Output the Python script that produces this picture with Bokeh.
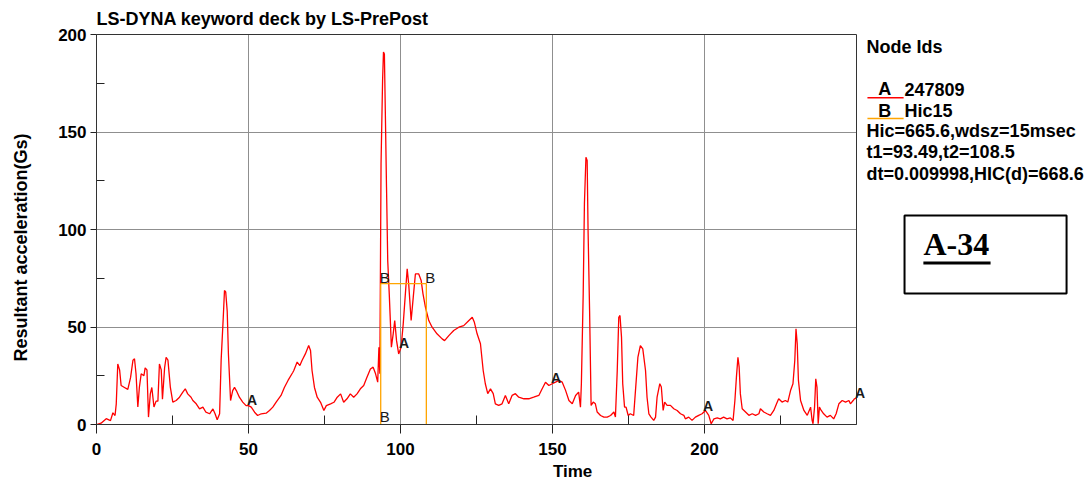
import numpy as np
from bokeh.plotting import figure
from bokeh.models import Label, BoxAnnotation, FixedTicker, Range1d, Grid
from bokeh.embed import file_html
from bokeh.resources import INLINE

# ---------------- data ----------------
time = [
    0, 1.5, 3.2, 4.6, 5.4, 6.1, 6.5, 7, 7.6, 8.1, 9.2, 10.3, 11.2, 12, 12.5, 13, 13.6, 14.1, 14.7, 15.6,
    16, 16.6, 17.1, 17.7, 18.2, 18.9, 19.6, 20.2, 20.7, 21.3, 21.7, 22.4, 22.9, 23.5, 24.3, 25.1, 26.2,
    27.3, 28.4, 29.2, 30, 31.1, 31.7, 32.8, 33.9, 35, 36, 37.2, 38.3, 39, 39.7, 40.5, 41, 41.7, 42.1,
    42.5, 43, 43.4, 44.1, 44.8, 45.4, 46, 47, 48.1, 49.2, 50, 50.9, 52, 53, 54.2, 55.8, 56.9, 58, 59.1,
    60.7, 61.8, 63, 64.6,
    64.9, 66, 66.9, 67.6, 68.7, 69.8, 70.4, 70.9, 71.7, 72.6, 73.7, 74.8, 75.6, 77, 78.1, 79.2, 80.3,
    81.3, 82.4, 83.5, 84.6, 85.7, 86.8, 87.9, 89, 90.1, 91, 91.8, 92.5, 92.9, 93.2, 93.6, 94.1, 94.4,
    94.7, 95, 95.4, 95.8, 96.3, 96.7, 97, 97.6, 98.1, 98.7, 99.4, 100.2, 100.9, 101.6, 102.2, 102.7,
    103.5, 104.2, 104.9, 106, 106.8, 107.4, 108.2, 109.3, 110.4, 112, 113.7, 114.5, 115.9, 117.5,
    119.2, 120.8, 122.5, 123.6, 124.3, 125.2,
    126.3, 127.2, 127.9, 128.7, 129.6, 130.5, 131.2, 132.3, 133.4, 134.5, 135.6, 136.7, 137.8, 138.9,
    140.6, 142.2, 143.8, 145.5, 146.6, 147.7, 148.8, 149.9, 151, 152.1, 153.2, 154.3, 155.4, 156.5,
    157.6, 158.6, 159.2, 159.5, 160.1, 160.5, 161, 161.4, 161.7, 162.2, 162.7, 163.4, 164.1, 164.7,
    165.8, 166.9, 168, 169.1, 170.2, 170.7, 171.3, 171.8, 172.2, 172.7, 173.1, 173.7, 174.2, 174.9,
    175.6, 176.7, 177.3, 178.1, 178.9, 179.7, 180.6, 181.1, 181.7, 182.4, 183.3, 183.9, 184.4, 185.3,
    185.8, 186.4, 186.9, 187.7,
    188.8, 189.9, 191, 192.1, 193.2, 193.7, 194.8, 195.9, 197, 198.1, 199.2, 200.3, 201.4, 202.2,
    203.1, 204.2, 205.2, 206.3, 207.4, 208.5, 209.4, 210, 210.5, 211, 211.4, 211.8, 212.4, 213.5,
    214.6, 215.7, 216.8, 217.9, 218.4, 219.5, 220.6, 221.7, 222.8, 223.7, 224.4, 225.5, 226.6, 227.4,
    228.3, 229.1, 229.7, 230.1, 230.5, 230.9, 231.6, 232.7, 233.8, 234.9, 235.4, 235.7, 236.2, 236.6,
    237, 237.4, 237.8, 238.4, 239.2, 240.3, 241.4, 242.5, 243.3, 244.2, 245.3, 246.4, 247.5, 248,
    248.9, 249.3, 250,
]
accel = [
    0, 0.7, 3, 2, 6, 4.6, 10.6, 31, 28, 20, 19, 18, 24, 33, 33.7, 26, 9, 19, 26, 25,
    29, 28, 3.8, 15.7, 19, 9, 12, 12, 31, 28, 13, 29, 34.5, 33, 19, 11.5, 12.3,
    14, 16.6, 18.3, 15.7, 14, 12.3, 10.6, 8, 8.9, 6.3, 5.5, 8, 5.5, 2.4, 5.5, 33, 55, 68.7,
    68, 58, 36, 12.3, 17.4, 19, 17.4, 14, 11.5, 9.7, 9.7, 8.9, 6.3, 4.6, 5.5, 5.8, 7.2, 8.9, 11.5,
    14.9, 19, 22.6, 26.8,
    27.7, 32, 30.2, 32.8, 36.2, 40.5, 38, 27.7, 19, 14, 11.4, 7.2, 9.7, 10.6, 11.4, 14, 15.7,
    11.4, 13.2, 15.7, 14, 15.7, 18.3, 20, 24.3, 28.5, 29.4, 26, 21.7, 39.6, 26, 133.6, 176, 191,
    190, 161, 121.7, 84, 67, 51.6, 39.6, 46.5, 53.3, 43, 36.2, 39.6, 51.6, 67, 79.8, 72,
    53.3, 65.3, 77.2, 77.2, 73.8, 67, 60.2, 53.3, 49.9, 46.5, 43.9, 43, 45.6, 48.2,
    49.9, 50.7, 53.3, 55, 52.4, 46.5,
    41.4, 27.7, 20.9, 15.8, 18.3, 15.8, 10.6, 9.8, 10.6, 14.9, 10.6, 14.9, 15.8, 14,
    13.2, 13.2, 14, 14.9, 18.3, 21.7, 20, 20.9, 21.7, 22.6, 21.7, 17.5, 12.3, 10.6,
    14.9, 16.6, 8.9, 20.9, 67, 113.2, 137.1, 135.4, 99.5, 58.5, 9.8, 11.5, 10.6, 6.4,
    4.6, 3.8, 3.8, 4.6, 6.4, 3.8, 27.7, 55, 55.9, 44.8, 20.9, 8.9, 8.9, 4.6,
    5.5, 4.6, 17.5, 34.6, 40.5, 38.8, 27.7, 14, 5.5, 3.8, 2.1, 3.8, 14, 20.9,
    19.2, 7.2, 11.5, 9.8,
    9.8, 8.1, 7.2, 5.5, 4.7, 2.9, 3.8, 2.1, 3.8, 4.7, 5.5, 7.2, 4.7, 0.4,
    2.9, 3.4, 2.9, 3.8, 2.9, 3.4, 2.1, 12.3, 24.3, 34.5, 29.4, 15.7, 8.1, 6.4,
    4.7, 5.5, 4.7, 5.5, 8.1, 6.4, 5.5, 4.7, 7.2, 10.6, 13.2, 11.5, 12.3, 11.5,
    17.4, 20.9, 32.8, 49.1, 41.4, 22.6, 12.3, 7.2, 4.7, 8.9, 2.1, 0.4, 8.9, 23.4,
    19.2, 0.4, 8.9, 7.2, 5.5, 3.8, 4.7, 2.9, 5.5, 10.6, 12.3, 11.5, 12.3, 10.6,
    12.3, 13.2, 13.5,
]
hic_t1 = 93.49
hic_t2 = 108.5
hic_level = 72.2
a_marker_times = [50, 100, 150, 200, 250]

x_bounds = (0, 250)
y_bounds = (0, 200)
x_ticks = [0, 50, 100, 150, 200]
x_minor = [25, 75, 125, 175, 225]
y_ticks = [0, 50, 100, 150, 200]
y_minor = [25, 75, 125, 175]

title_text = "LS-DYNA keyword deck by LS-PrePost"
x_label = "Time"
y_label = "Resultant acceleration(Gs)"
legend_title = "Node Ids"
legend_a = ("A", "247809")
legend_b = ("B", "Hic15")
info_lines = ["Hic=665.6,wdsz=15msec", "t1=93.49,t2=108.5", "dt=0.009998,HIC(d)=668.6"]
box_text = "A-34"

RED = "#ff0000"
ORANGE = "#ffa500"
FONT = "Liberation Sans"

# ---------------- figure ----------------
# the frame fills the whole canvas: x=0 sits 96px from the left, y=0 sits 424px from the top
W, H = 1085, 481
PX_X, PX_Y = 3.04, 1.95
p = figure(width=W, height=H,
           x_range=Range1d(-96 / PX_X, (W - 96) / PX_X),
           y_range=Range1d((424 - H) / PX_Y, 424 / PX_Y),
           output_backend="svg", toolbar_location=None,
           min_border_left=0, min_border_right=0, min_border_top=0, min_border_bottom=0)
p.title.visible = False
p.background_fill_color = "white"
p.border_fill_color = "white"
p.outline_line_color = None

# axes, pinned at the data origin
for ax, ticks, minor, bounds in ((p.xaxis, x_ticks, x_minor, x_bounds),
                                 (p.yaxis, y_ticks, y_minor, y_bounds)):
    ax.fixed_location = 0
    ax.bounds = bounds
    ax.ticker = FixedTicker(ticks=ticks, minor_ticks=minor)
    ax.axis_line_color = "#222222"
    ax.major_tick_line_color = "#222222"
    ax.minor_tick_line_color = "#222222"
    ax.major_tick_in = 0
    ax.minor_tick_out = 0
    ax.major_label_text_font = FONT
    ax.major_label_text_font_style = "bold"
    ax.major_label_text_font_size = "17px"
    ax.major_label_text_color = "black"
p.xaxis.major_tick_out = 9
p.xaxis.minor_tick_in = 9
p.xaxis.major_label_standoff = 9
p.yaxis.major_tick_out = 6
p.yaxis.minor_tick_in = 8
p.yaxis.major_label_standoff = 4

# grid lines limited to the plotting box
GRID_COLOR = "#8f8f8f"
if "cross_bounds" in Grid.properties():
    p.xgrid.ticker = FixedTicker(ticks=[50, 100, 150, 200])
    p.ygrid.ticker = FixedTicker(ticks=[50, 100, 150])
    p.xgrid.bounds = x_bounds
    p.ygrid.bounds = y_bounds
    p.xgrid.cross_bounds = y_bounds
    p.ygrid.cross_bounds = x_bounds
    p.grid.grid_line_color = GRID_COLOR
else:
    p.grid.visible = False
    gx = [50, 100, 150, 200]
    gy = [50, 100, 150]
    p.segment(x0=gx, y0=[y_bounds[0]] * 4, x1=gx, y1=[y_bounds[1]] * 4,
              line_color=GRID_COLOR, line_width=1)
    p.segment(x0=[x_bounds[0]] * 3, y0=gy, x1=[x_bounds[1]] * 3, y1=gy,
              line_color=GRID_COLOR, line_width=1)

# plot box border (top and right)
p.add_layout(BoxAnnotation(left=x_bounds[0], right=x_bounds[1], bottom=y_bounds[0], top=y_bounds[1],
                           fill_color=None, fill_alpha=0, line_color="#333333", line_alpha=1.0,
                           line_width=1))

# curves
p.line(time, accel, line_color=RED, line_width=1.3)
p.line([hic_t1, hic_t1, hic_t2, hic_t2], [0, hic_level, hic_level, 0],
       line_color=ORANGE, line_width=1.3)

# curve letters (centre placed a few pixels up/right of the point)
for tm in a_marker_times:
    p.add_layout(Label(x=tm + 3.5 / PX_X, y=float(np.interp(tm, time, accel)) + 5.5 / PX_Y,
                       text="A", text_font=FONT, text_font_size="14px", text_font_style="bold",
                       text_color="#1a1a1a", text_baseline="middle", text_align="center"))
for bx, by, up in ((hic_t1, hic_level, 6.5), (hic_t2, hic_level, 6.5), (hic_t1, 0, 8.0)):
    p.add_layout(Label(x=bx + 4.0 / PX_X, y=by + up / PX_Y, text="B",
                       text_font=FONT, text_font_size="15px",
                       text_color="#1a1a1a", text_baseline="middle", text_align="center"))

def lab(x, y, text, size="18px", style="bold", align="left", baseline="middle", angle=0.0,
        font=FONT, color="black"):
    p.add_layout(Label(x=x, y=y, text=text, text_font=font, text_font_size=size,
                       text_font_style=style, text_align=align, text_baseline=baseline,
                       angle=angle, text_color=color))

# titles
lab(0, 208.2, title_text, size="18px")
lab(156.6, -24.2, x_label, size="17px", align="center")
lab(-25.0, 90.8, y_label, size="18px", align="center", angle=np.pi / 2)

# legend (right side)
LX = 253.3
lab(LX, 193.8, legend_title)
lab(259.3, 171.8, legend_a[0], align="center")
lab(265.8, 171.8, legend_a[1])
p.add_layout(BoxAnnotation(left=253.6, right=265.5, bottom=167.2, top=168.0,
                           fill_color=RED, fill_alpha=1.0, line_alpha=0))
lab(259.3, 161.0, legend_b[0], align="center")
lab(265.8, 161.0, legend_b[1])
p.add_layout(BoxAnnotation(left=253.6, right=265.5, bottom=156.5, top=157.3,
                           fill_color=ORANGE, fill_alpha=1.0, line_alpha=0))
for i, line in enumerate(info_lines):
    lab(LX, 150.3 - i * 10.8, line)

# A-34 box
p.add_layout(BoxAnnotation(left=265.8, right=319.1, bottom=67.2, top=107.2,
                           fill_color=None, fill_alpha=0, line_color="black", line_alpha=1.0,
                           line_width=2))
lab(272.0, 92.6, box_text, size="32px", baseline="middle", font="Liberation Serif")
p.add_layout(BoxAnnotation(left=272.0, right=294.1, bottom=82.1, top=83.6,
                           fill_color="black", fill_alpha=1.0, line_alpha=0))

open("out.html", "w").write(file_html(p, INLINE))
